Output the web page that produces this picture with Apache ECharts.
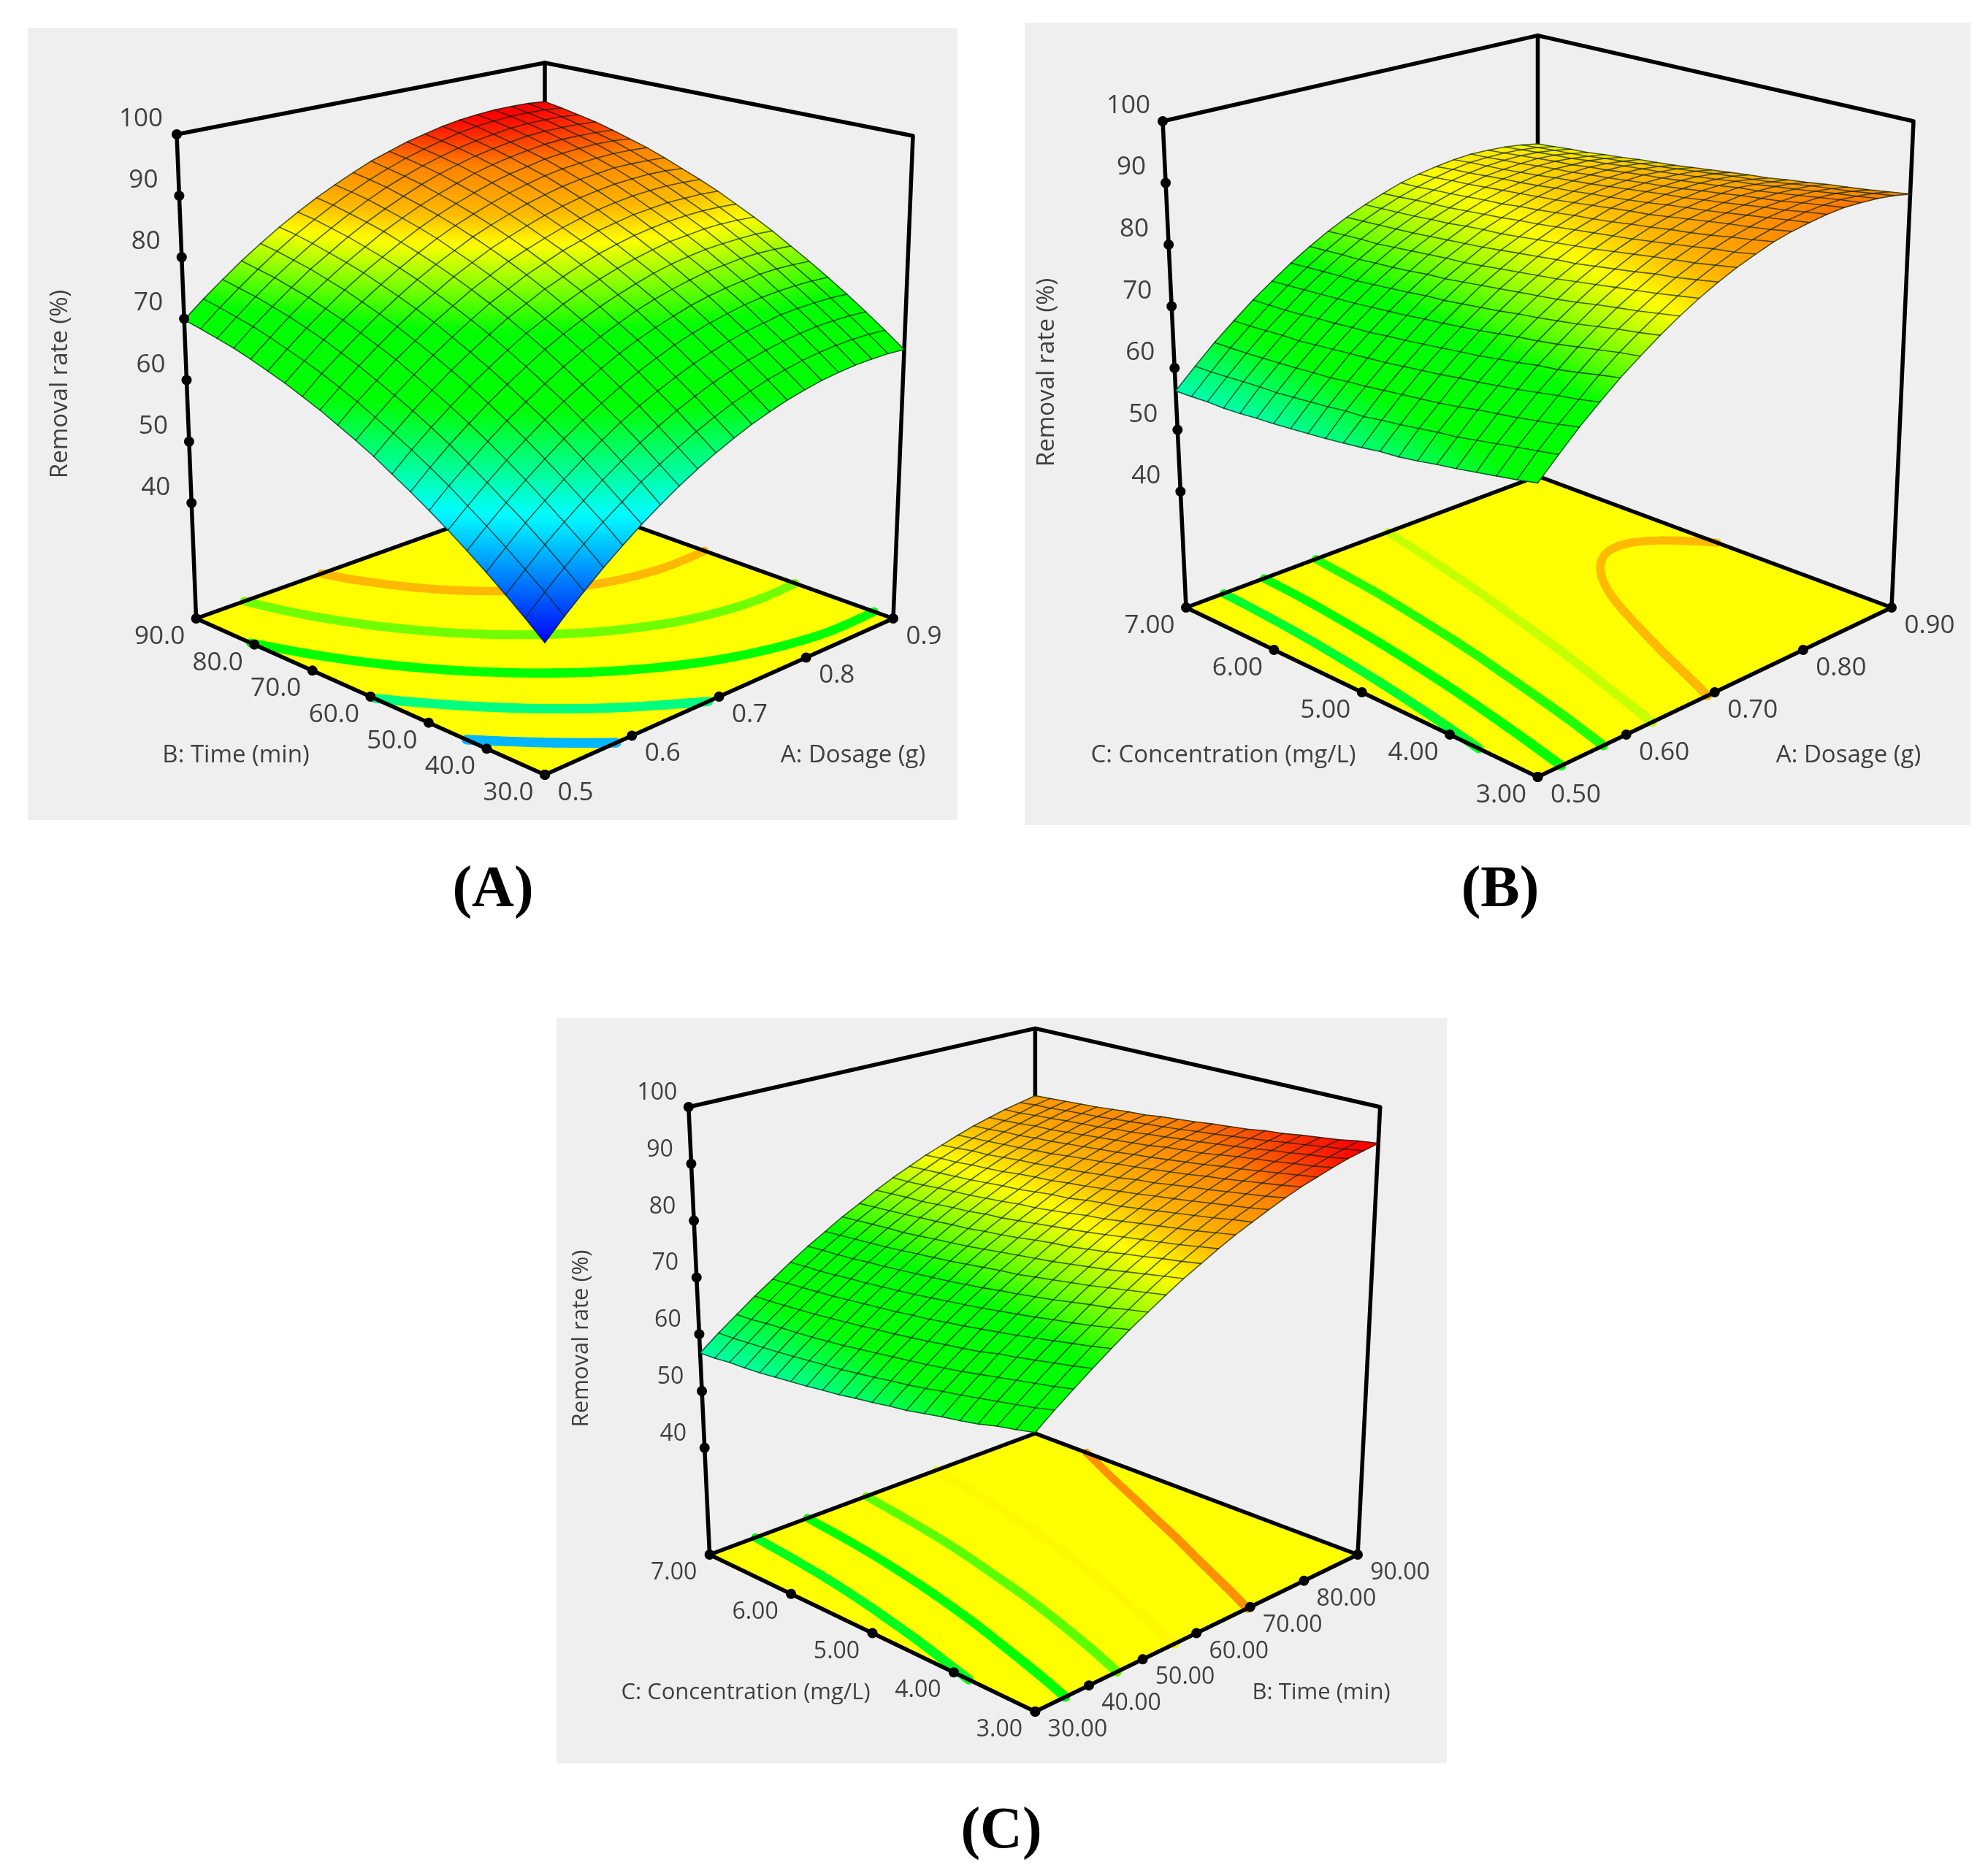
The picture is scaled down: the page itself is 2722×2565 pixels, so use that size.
<!DOCTYPE html>
<html><head><meta charset="utf-8">
<style>html,body{margin:0;padding:0;background:#fff}#c{width:2722px;height:2565px}</style>
<script src="https://cdn.jsdelivr.net/npm/echarts@6/dist/echarts.min.js"></script>
</head><body><div id="c"></div>
<script>
// ---------- values ----------
// rows: second factor low -> high; columns: first factor low -> high
const zA = [
[40.1,42.8,45.3,47.7,49.9,52.0,53.9,55.7,57.3,58.8,60.1,61.3,62.3,63.2,63.9,64.5,64.9,65.2,65.3,65.3,65.1],
[42.5,45.2,47.7,50.1,52.3,54.3,56.3,58.0,59.6,61.1,62.4,63.6,64.6,65.5,66.2,66.8,67.2,67.5,67.6,67.6,67.4],
[44.8,47.4,50.0,52.3,54.5,56.6,58.5,60.3,61.9,63.4,64.7,65.9,66.9,67.7,68.4,69.0,69.4,69.7,69.8,69.8,69.6],
[47.0,49.6,52.2,54.5,56.7,58.8,60.7,62.5,64.1,65.5,66.8,68.0,69.0,69.9,70.6,71.1,71.6,71.8,71.9,71.9,71.7],
[49.1,51.7,54.2,56.6,58.8,60.9,62.8,64.5,66.1,67.6,68.9,70.1,71.1,71.9,72.6,73.2,73.6,73.8,73.9,73.9,73.7],
[51.1,53.7,56.2,58.6,60.8,62.9,64.8,66.5,68.1,69.6,70.9,72.0,73.0,73.9,74.6,75.1,75.5,75.8,75.9,75.8,75.6],
[53.0,55.7,58.1,60.5,62.7,64.7,66.6,68.4,70.0,71.4,72.7,73.9,74.9,75.7,76.4,77.0,77.3,77.6,77.7,77.6,77.4],
[54.8,57.5,60.0,62.3,64.5,66.5,68.4,70.2,71.8,73.2,74.5,75.6,76.6,77.5,78.2,78.7,79.1,79.3,79.4,79.4,79.2],
[56.5,59.2,61.7,64.0,66.2,68.2,70.1,71.9,73.4,74.9,76.2,77.3,78.3,79.1,79.8,80.4,80.7,81.0,81.1,81.0,80.8],
[58.2,60.8,63.3,65.6,67.8,69.8,71.7,73.5,75.0,76.5,77.7,78.9,79.9,80.7,81.4,81.9,82.3,82.5,82.6,82.5,82.3],
[59.7,62.3,64.8,67.1,69.3,71.3,73.2,75.0,76.5,78.0,79.2,80.4,81.3,82.2,82.8,83.4,83.7,84.0,84.0,84.0,83.8],
[61.1,63.8,66.2,68.6,70.7,72.8,74.6,76.4,77.9,79.4,80.6,81.7,82.7,83.5,84.2,84.7,85.1,85.3,85.4,85.3,85.1],
[62.5,65.1,67.6,69.9,72.1,74.1,75.9,77.7,79.2,80.7,81.9,83.0,84.0,84.8,85.5,86.0,86.4,86.6,86.7,86.6,86.3],
[63.7,66.4,68.8,71.1,73.3,75.3,77.2,78.9,80.4,81.9,83.1,84.2,85.2,86.0,86.7,87.2,87.5,87.8,87.8,87.7,87.5],
[64.9,67.5,70.0,72.3,74.4,76.4,78.3,80.0,81.6,83.0,84.2,85.3,86.3,87.1,87.8,88.3,88.6,88.8,88.9,88.8,88.6],
[65.9,68.5,71.0,73.3,75.5,77.5,79.3,81.0,82.6,84.0,85.2,86.3,87.3,88.1,88.7,89.3,89.6,89.8,89.9,89.8,89.5],
[66.9,69.5,72.0,74.3,76.4,78.4,80.2,82.0,83.5,84.9,86.1,87.2,88.2,89.0,89.6,90.1,90.5,90.7,90.7,90.6,90.4],
[67.8,70.4,72.8,75.1,77.3,79.2,81.1,82.8,84.3,85.7,87.0,88.1,89.0,89.8,90.4,90.9,91.3,91.5,91.5,91.4,91.2],
[68.5,71.1,73.6,75.9,78.0,80.0,81.8,83.5,85.1,86.5,87.7,88.8,89.7,90.5,91.1,91.6,92.0,92.2,92.2,92.1,91.8],
[69.2,71.8,74.2,76.5,78.7,80.7,82.5,84.2,85.7,87.1,88.3,89.4,90.3,91.1,91.8,92.3,92.6,92.8,92.8,92.7,92.4],
[69.8,72.4,74.8,77.1,79.2,81.2,83.0,84.7,86.2,87.6,88.9,89.9,90.9,91.6,92.3,92.8,93.1,93.3,93.3,93.2,92.9]];
const zB = [
[63.9,66.9,69.8,72.4,74.9,77.1,79.2,81.1,82.8,84.3,85.6,86.7,87.7,88.4,88.9,89.3,89.5,89.4,89.2,88.8,88.2],
[63.2,66.3,69.1,71.7,74.3,76.6,78.6,80.5,82.2,83.7,85.0,86.1,87.1,87.8,88.4,88.8,89.0,89.0,88.7,88.3,87.7],
[62.6,65.7,68.5,71.2,73.6,76.0,78.1,79.9,81.6,83.1,84.4,85.7,86.6,87.3,87.9,88.2,88.5,88.5,88.3,87.8,87.2],
[62.0,65.1,67.9,70.6,73.0,75.4,77.5,79.4,81.1,82.7,84.0,85.1,86.0,86.9,87.4,87.8,87.9,88.0,87.8,87.4,86.8],
[61.4,64.5,67.4,70.0,72.6,74.8,76.9,78.9,80.6,82.1,83.5,84.6,85.5,86.4,86.9,87.3,87.5,87.5,87.3,87.0,86.4],
[60.9,63.9,66.9,69.5,72.0,74.3,76.4,78.3,80.1,81.6,83.0,84.1,85.1,85.9,86.4,86.8,87.1,87.0,86.9,86.5,85.9],
[60.3,63.5,66.3,69.0,71.5,73.9,75.9,77.8,79.6,81.1,82.5,83.6,84.6,85.4,86.0,86.4,86.6,86.7,86.4,86.0,85.5],
[59.8,63.0,65.8,68.6,71.0,73.4,75.5,77.4,79.1,80.6,82.0,83.2,84.2,84.9,85.6,85.9,86.2,86.2,86.1,85.6,85.0],
[59.5,62.5,65.4,68.1,70.6,72.9,75.0,77.0,78.7,80.3,81.6,82.8,83.7,84.6,85.1,85.6,85.7,85.8,85.6,85.3,84.7],
[59.0,62.1,65.0,67.7,70.2,72.5,74.6,76.6,78.3,79.9,81.2,82.4,83.3,84.2,84.7,85.2,85.3,85.4,85.2,84.9,84.3],
[58.6,61.6,64.6,67.3,69.8,72.1,74.2,76.2,77.9,79.5,80.8,82.0,83.0,83.8,84.3,84.8,85.0,85.0,84.8,84.5,83.9],
[58.2,61.4,64.2,66.9,69.4,71.8,73.8,75.8,77.5,79.1,80.4,81.6,82.6,83.4,84.0,84.4,84.6,84.7,84.4,84.1,83.5],
[57.9,61.0,63.9,66.6,69.1,71.4,73.6,75.4,77.1,78.7,80.0,81.3,82.2,83.0,83.6,84.0,84.2,84.3,84.1,83.7,83.1],
[57.6,60.7,63.5,66.3,68.7,71.1,73.2,75.2,76.9,78.4,79.8,80.9,81.9,82.7,83.3,83.7,83.9,83.9,83.8,83.4,82.8],
[57.3,60.4,63.3,66.0,68.5,70.8,72.9,74.8,76.6,78.1,79.5,80.6,81.5,82.4,82.9,83.4,83.5,83.6,83.4,83.0,82.5],
[57.1,60.1,63.0,65.7,68.2,70.5,72.6,74.5,76.3,77.8,79.1,80.3,81.3,82.1,82.6,83.0,83.3,83.2,83.1,82.7,82.1],
[56.8,60.0,62.8,65.4,68.0,70.3,72.3,74.3,76.0,77.5,78.9,80.0,81.0,81.8,82.4,82.7,83.0,83.0,82.7,82.3,81.8],
[56.6,59.8,62.6,65.3,67.7,70.1,72.2,74.0,75.7,77.3,78.6,79.8,80.7,81.5,82.1,82.4,82.6,82.7,82.5,82.0,81.4],
[56.6,59.6,62.4,65.1,67.5,69.9,72.0,73.9,75.6,77.1,78.4,79.6,80.5,81.3,81.8,82.2,82.4,82.4,82.2,81.8,81.2],
[56.4,59.4,62.3,64.9,67.4,69.7,71.8,73.7,75.4,76.9,78.2,79.3,80.2,81.0,81.6,82.0,82.1,82.1,81.9,81.5,80.9],
[56.3,59.3,62.2,64.8,67.3,69.5,71.6,73.5,75.2,76.7,78.0,79.1,80.1,80.8,81.3,81.7,81.9,81.8,81.6,81.2,80.6]];
const zC = [
[65.2,67.6,69.8,72.0,74.1,76.1,77.9,79.7,81.4,82.9,84.4,85.8,87.0,88.2,89.3,90.3,91.1,91.9,92.6,93.1,93.6],
[64.5,66.8,69.1,71.3,73.4,75.4,77.3,79.1,80.8,82.3,83.8,85.2,86.5,87.6,88.7,89.7,90.6,91.3,92.0,92.6,93.2],
[63.9,66.2,68.5,70.7,72.8,74.7,76.6,78.5,80.2,81.8,83.2,84.6,85.9,87.1,88.2,89.2,90.1,90.9,91.6,92.2,92.6],
[63.1,65.6,67.9,70.1,72.2,74.1,76.1,77.9,79.6,81.2,82.7,84.1,85.4,86.6,87.7,88.7,89.6,90.4,91.1,91.7,92.2],
[62.5,65.0,67.3,69.5,71.6,73.6,75.5,77.3,79.0,80.7,82.2,83.6,84.9,86.1,87.2,88.2,89.1,90.0,90.7,91.3,91.8],
[62.0,64.4,66.7,69.0,71.0,73.0,74.9,76.8,78.5,80.1,81.7,83.1,84.4,85.6,86.8,87.8,88.7,89.6,90.2,90.8,91.3],
[61.4,63.9,66.1,68.3,70.5,72.5,74.4,76.3,78.0,79.6,81.2,82.6,83.9,85.2,86.3,87.3,88.2,89.1,89.8,90.4,91.0],
[60.8,63.3,65.6,67.8,70.0,72.0,73.9,75.8,77.5,79.1,80.7,82.1,83.4,84.7,85.8,86.9,87.8,88.6,89.4,90.0,90.5],
[60.4,62.8,65.1,67.4,69.5,71.5,73.5,75.3,77.1,78.8,80.3,81.8,83.1,84.3,85.5,86.5,87.4,88.3,89.0,89.6,90.2],
[59.9,62.4,64.7,66.9,69.1,71.1,73.0,75.0,76.7,78.4,79.9,81.3,82.7,83.9,85.0,86.1,87.0,88.0,88.7,89.3,89.9],
[59.5,61.9,64.3,66.5,68.6,70.7,72.6,74.6,76.3,77.9,79.5,80.9,82.2,83.5,84.7,85.8,86.7,87.5,88.3,88.9,89.5],
[59.0,61.5,63.9,66.1,68.3,70.3,72.2,74.2,75.9,77.5,79.1,80.5,82.0,83.2,84.3,85.4,86.3,87.2,88.0,88.6,89.2],
[58.7,61.1,63.5,65.8,67.9,69.9,71.9,73.8,75.5,77.2,78.7,80.3,81.6,82.8,84.0,85.1,86.0,86.9,87.6,88.3,88.9],
[58.3,60.8,63.1,65.4,67.6,69.6,71.6,73.5,75.2,76.8,78.5,79.9,81.2,82.6,83.7,84.8,85.7,86.6,87.4,88.0,88.5],
[58.0,60.5,62.8,65.1,67.3,69.3,71.3,73.2,74.9,76.6,78.1,79.6,81.0,82.3,83.4,84.4,85.4,86.3,87.0,87.7,88.3],
[57.7,60.2,62.5,64.8,67.0,69.0,71.0,72.9,74.6,76.3,77.9,79.3,80.7,81.9,83.2,84.2,85.1,86.0,86.8,87.4,88.0],
[57.4,59.9,62.3,64.5,66.7,68.8,70.8,72.6,74.3,76.1,77.6,79.1,80.4,81.7,82.9,83.9,84.9,85.7,86.6,87.2,87.7],
[57.2,59.7,62.1,64.3,66.5,68.5,70.5,72.4,74.2,75.8,77.3,78.9,80.2,81.5,82.6,83.7,84.6,85.6,86.3,87.0,87.5],
[57.1,59.5,61.9,64.1,66.3,68.3,70.3,72.2,74.0,75.6,77.2,78.6,80.0,81.2,82.5,83.5,84.5,85.3,86.1,86.7,87.3],
[56.8,59.3,61.6,63.9,66.1,68.2,70.2,72.0,73.8,75.4,77.0,78.4,79.8,81.1,82.2,83.3,84.2,85.1,85.8,86.6,87.1],
[56.7,59.2,61.5,63.8,65.9,68.0,70.0,71.8,73.6,75.2,76.8,78.3,79.6,80.9,82.0,83.1,84.1,84.9,85.7,86.3,86.9]];

const contourLevelsA = [49.3,58.5,67.4,76,84.2];
const contourLevelsB = [62,67.4,73.2,79,84.2];
const contourLevelsC = [62.7,69,75.2,81.3,87.6];

const zTickLabels = ['40','50','60','70','80','90','100'];
const dosageTicksA = ['0.5','0.6','0.7','0.8','0.9'];
const timeTicksA = ['30.0','40.0','50.0','60.0','70.0','80.0','90.0'];
const dosageTicksB = ['0.50','0.60','0.70','0.80','0.90'];
const concTicksB = ['3.00','4.00','5.00','6.00','7.00'];
const timeTicksC = ['30.00','40.00','50.00','60.00','70.00','80.00','90.00'];
const concTicksC = ['3.00','4.00','5.00','6.00','7.00'];
const zFloorValue = 21.2, zTopValue = 100;

// colour scale of the response (value -> colour)
const rampValues = [40,53,64,72,81,84.2,88.9,93];
const rampColours = [[0,0,255],[0,255,255],[0,255,0],[0,255,0],[255,255,0],[255,185,0],[255,130,0],[255,0,0]];

// ---------- layout ----------
const TEXT = '#3f3f3f', BG = '#efefef', FONT = '"Open Sans","Noto Sans",sans-serif';
const panels = [
 {rect:[38,38,1273,1085], z:zA, levels:contourLevelsA,
  floor:{F:[746,1061],R:[1223,847],B:[746,676],L:[268.6,847]},
  top:{F:[746,307],R:[1250,186],B:[746,86],L:[242,184]},
  uTicks:dosageTicksA, vTicks:timeTicksA, tickFont:35, titleFont:33,
  uOff:[42,25], vOff:[-50,25], zOff:[-49,-21],
  titles:[['B: Time (min)',323,1035],['A: Dosage (g)',1168,1035]], zTitle:[83,526],
  caption:['(A)',675,1220]},
 {rect:[1403,31,1295,1099], z:zB, levels:contourLevelsB,
  floor:{F:[2105.5,1064],R:[2590,832],B:[2105.5,652],L:[1624,832]},
  top:{F:[2105.5,321],R:[2620,166],B:[2105.5,48.6],L:[1592,166]},
  uTicks:dosageTicksB, vTicks:concTicksB, tickFont:35, titleFont:33,
  uOff:[52,25], vOff:[-50,25], zOff:[-47,-21],
  titles:[['C: Concentration (mg/L)',1675,1035],['A: Dosage (g)',2531,1035]], zTitle:[1434,510],
  caption:['(B)',2054,1220]},
 {rect:[762,1394,1219,1021], z:zC, levels:contourLevelsC,
  floor:{F:[1417.4,2344],R:[1859,2129],B:[1417.4,1963],L:[971.6,2129]},
  top:{F:[1417.4,1659.4],R:[1889.7,1516],B:[1417.4,1408.4],L:[942.8,1516]},
  uTicks:timeTicksC, vTicks:concTicksC, tickFont:32, titleFont:31,
  uOff:[58,25], vOff:[-49,25], zOff:[-43,-19],
  titles:[['C: Concentration (mg/L)',1021,2318],['B: Time (min)',1809,2318]], zTitle:[796,1833],
  caption:['(C)',1371,2509]}
];

// ---------- helpers ----------
function homography(q){
  const [x0,y0]=q.F,[x1,y1]=q.R,[x2,y2]=q.B,[x3,y3]=q.L;
  const dx1=x1-x2,dx2=x3-x2,sx=x0-x1+x2-x3,dy1=y1-y2,dy2=y3-y2,sy=y0-y1+y2-y3;
  const den=dx1*dy2-dx2*dy1, g=(sx*dy2-dx2*sy)/den, h=(dx1*sy-sx*dy1)/den;
  const a=x1-x0+g*x1,b=x3-x0+h*x3,d=y1-y0+g*y1,e=y3-y0+h*y3;
  return (u,v)=>{const w=g*u+h*v+1;return [(a*u+b*v+x0)/w,(d*u+e*v+y0)/w,w];};
}
function colourOf(z){
  const n=rampValues.length;
  if(z<=rampValues[0]) return rampColours[0];
  if(z>=rampValues[n-1]) return rampColours[n-1];
  for(let k=0;k<n-1;k++) if(z<=rampValues[k+1]){
    const t=(z-rampValues[k])/(rampValues[k+1]-rampValues[k]),A=rampColours[k],B=rampColours[k+1];
    return [0,1,2].map(c=>Math.round(A[c]+(B[c]-A[c])*t));
  }
}
const css=c=>`rgb(${c[0]},${c[1]},${c[2]})`;
function quadFill(p,zs){
  const zmin=Math.min(...zs),zmax=Math.max(...zs),zc=(zs[0]+zs[1]+zs[2]+zs[3])/4;
  const cx=(p[0][0]+p[1][0]+p[2][0]+p[3][0])/4,cy=(p[0][1]+p[1][1]+p[2][1]+p[3][1])/4;
  const eu=[(p[1][0]-p[0][0]+p[2][0]-p[3][0])/2,(p[1][1]-p[0][1]+p[2][1]-p[3][1])/2];
  const ev=[(p[3][0]-p[0][0]+p[2][0]-p[1][0])/2,(p[3][1]-p[0][1]+p[2][1]-p[1][1])/2];
  const du=(zs[1]-zs[0]+zs[2]-zs[3])/2,dv=(zs[3]-zs[0]+zs[2]-zs[1])/2;
  const det=eu[0]*ev[1]-eu[1]*ev[0];
  if(Math.abs(det)<1e-6||zmax-zmin<1e-6) return css(colourOf(zc));
  const gx=(du*ev[1]-dv*eu[1])/det,gy=(dv*eu[0]-du*ev[0])/det,g2=gx*gx+gy*gy;
  if(g2<1e-9) return css(colourOf(zc));
  const x0=cx+gx*(zmin-zc)/g2,y0=cy+gy*(zmin-zc)/g2,x1=cx+gx*(zmax-zc)/g2,y1=cy+gy*(zmax-zc)/g2;
  const stops=[0,.25,.5,.75,1].map(o=>({offset:o,color:css(colourOf(zmin+(zmax-zmin)*o))}));
  return new echarts.graphic.LinearGradient(x0,y0,x1,y1,stops,true);
}
// join contour segments into chains so they can be drawn as a smooth band
function chainSegments(segs){
  const key=q=>q[0].toFixed(4)+','+q[1].toFixed(4),used=segs.map(()=>false),at={},chains=[];
  segs.forEach((s,k)=>{[key(s[0]),key(s[1])].forEach(m=>{(at[m]=at[m]||[]).push(k);});});
  const walk=(start,k0)=>{
    const path=[start];let cur=start,k=k0;
    while(k!==undefined){
      used[k]=true;
      const s=segs[k],next=key(s[0])===key(cur)?s[1]:s[0];
      path.push(next);cur=next;
      k=(at[key(cur)]||[]).find(n=>!used[n]);
    }
    return path;
  };
  Object.keys(at).filter(m=>at[m].length===1).forEach(m=>{
    const k=at[m][0];if(used[k])return;
    const s=segs[k];chains.push(walk(key(s[0])===m?s[0]:s[1],k));
  });
  segs.forEach((s,k)=>{if(!used[k])chains.push(walk(s[0],k));});
  return chains;
}
function relax(path,passes){
  let q=path;
  for(let n=0;n<passes;n++) q=q.map((m,i)=>(i===0||i===q.length-1)?m:
    [(q[i-1][0]+2*m[0]+q[i+1][0])/4,(q[i-1][1]+2*m[1]+q[i+1][1])/4]);
  return q;
}
const seriesBase=(idx)=>({type:'custom',coordinateSystem:'cartesian2d',xAxisIndex:idx,yAxisIndex:idx,
  silent:true,animation:false,clip:false,progressive:0,encode:{x:0,y:1}});

function seriesFor(p,idx){
  const floorH=homography(p.floor),topH=homography(p.top);
  const N=p.z.length-1,M=p.z[0].length-1;
  const tOf=z=>(z-zFloorValue)/(zTopValue-zFloorValue);
  const proj=(u,v,t)=>{const a=floorH(u,v),b=topH(u,v);return [a[0]+(b[0]-a[0])*t,a[1]+(b[1]-a[1])*t];};
  const line=(api,pts,w,col)=>({type:'polyline',shape:{points:pts.map(q=>api.coord(q))},
    style:{stroke:col||'#000',lineWidth:w,fill:null,lineCap:'round',lineJoin:'round'}});
  const out=[];
  // box walls and yellow floor
  out.push({...seriesBase(idx),data:[[0,0]],renderItem:(x,api)=>{
    const f=p.floor,t=p.top;
    return {type:'group',children:[
      line(api,[f.L,t.L,t.B,t.R,f.R],5.5),
      line(api,[t.B,f.B],5.5),
      {type:'polygon',shape:{points:[f.F,f.R,f.B,f.L].map(q=>api.coord(q))},style:{fill:'#ffff00'}}
    ]};
  }});
  // contour bands on the floor
  out.push({...seriesBase(idx),data:p.levels.map((l,k)=>[k,l]),renderItem:(x,api)=>{
    const L=api.value(1),col=css(colourOf(L)),segs=[],ch=[];
    for(let j=0;j<N;j++)for(let i=0;i<M;i++){
      const a=p.z[j][i],b=p.z[j][i+1],c=p.z[j+1][i+1],d=p.z[j+1][i],pts=[];
      if((a<L)!==(b<L))pts.push([i+(L-a)/(b-a),j]);
      if((b<L)!==(c<L))pts.push([i+1,j+(L-b)/(c-b)]);
      if((d<L)!==(c<L))pts.push([i+(L-d)/(c-d),j+1]);
      if((a<L)!==(d<L))pts.push([i,j+(L-a)/(d-a)]);
      for(let s=0;s+1<pts.length;s+=2)segs.push([pts[s],pts[s+1]]);
    }
    chainSegments(segs).forEach(path=>{
      const q=relax(path,4);
      for(let s=0;s+1<q.length;s++){
        const A=floorH(q[s][0]/M,q[s][1]/N),B=floorH(q[s+1][0]/M,q[s+1][1]/N);
        const P=api.coord(A),Q=api.coord(B);
        ch.push({type:'line',shape:{x1:P[0],y1:P[1],x2:Q[0],y2:Q[1]},
          style:{stroke:col,lineWidth:13.5/((A[2]+B[2])/2),lineCap:'round'}});
      }
    });
    return {type:'group',children:ch};
  }});
  // floor edges
  out.push({...seriesBase(idx),data:[[0,0]],renderItem:(x,api)=>{
    const f=p.floor;
    return line(api,[f.L,f.F,f.R,f.B,f.L,f.F],5.5);
  }});
  // response surface cells, far to near
  const cells=[];
  for(let j=N-1;j>=0;j--)for(let i=M-1;i>=0;i--)
    cells.push([i,j,p.z[j][i],p.z[j][i+1],p.z[j+1][i+1],p.z[j+1][i]]);
  out.push({...seriesBase(idx),data:cells,renderItem:(x,api)=>{
    const i=api.value(0),j=api.value(1),zs=[api.value(2),api.value(3),api.value(4),api.value(5)];
    const corners=[[i,j],[i+1,j],[i+1,j+1],[i,j+1]];
    const pts=corners.map((c,k)=>api.coord(proj(c[0]/M,c[1]/N,tOf(zs[k]))));
    const fill=quadFill(pts,zs);
    return {type:'polygon',shape:{points:pts},style:{fill:fill,stroke:fill,lineWidth:1}};
  }});
  // mesh lines
  const meshLines=[];
  for(let j=0;j<=N;j++)meshLines.push([0,j]);
  for(let i=0;i<=M;i++)meshLines.push([1,i]);
  out.push({...seriesBase(idx),data:meshLines,renderItem:(x,api)=>{
    const kind=api.value(0),n=api.value(1),pts=[];
    if(kind===0)for(let i=0;i<=M;i++)pts.push(proj(i/M,n/N,tOf(p.z[n][i])));
    else for(let j=0;j<=N;j++)pts.push(proj(n/M,j/N,tOf(p.z[j][n])));
    return line(api,pts,1.6,'rgba(0,30,15,0.68)');
  }});
  // ticks and tick labels on the three axes (floor ticks are evenly spaced along each edge)
  const items=[];
  const norm=(arr,s)=>(parseFloat(s)-parseFloat(arr[0]))/(parseFloat(arr[arr.length-1])-parseFloat(arr[0]));
  const along=(A,B,t)=>[A[0]+(B[0]-A[0])*t,A[1]+(B[1]-A[1])*t];
  p.uTicks.forEach(s=>items.push({pos:()=>along(p.floor.F,p.floor.R,norm(p.uTicks,s)),label:s,off:p.uOff}));
  p.vTicks.forEach(s=>items.push({pos:()=>along(p.floor.F,p.floor.L,norm(p.vTicks,s)),label:s,off:p.vOff}));
  zTickLabels.forEach(s=>items.push({pos:()=>proj(0,1,tOf(parseFloat(s))),label:s,off:p.zOff}));
  out.push({...seriesBase(idx),data:items.map((_,k)=>[k,0]),renderItem:(x,api)=>{
    const it=items[api.value(0)],c=api.coord(it.pos());
    return {type:'group',children:[
      {type:'circle',shape:{cx:c[0],cy:c[1],r:7},style:{fill:'#000'}},
      {type:'text',x:c[0]+it.off[0],y:c[1]+it.off[1],style:{text:it.label,fill:TEXT,
        font:`${p.tickFont}px ${FONT}`,align:'center',verticalAlign:'middle'}}
    ]};
  }});
  // axis titles and the caption
  out.push({...seriesBase(idx),data:[[0,0]],renderItem:(x,api)=>{
    const ch=p.titles.map(t=>{const c=api.coord([t[1],t[2]]);
      return {type:'text',x:c[0],y:c[1],style:{text:t[0],fill:TEXT,font:`${p.titleFont}px ${FONT}`,align:'center',verticalAlign:'middle'}};});
    const zc=api.coord(p.zTitle);
    ch.push({type:'text',x:zc[0],y:zc[1],rotation:Math.PI/2,style:{text:'Removal rate (%)',fill:TEXT,
      font:`${p.titleFont}px ${FONT}`,align:'center',verticalAlign:'middle'}});
    const cc=api.coord([p.caption[1],p.caption[2]]);
    ch.push({type:'text',x:cc[0],y:cc[1],style:{text:p.caption[0],fill:'#000',
      font:'bold 80px "Liberation Serif",serif',align:'center',verticalAlign:'middle'}});
    return {type:'group',children:ch};
  }});
  return out;
}

const chart=echarts.init(document.getElementById('c'),null,{renderer:'canvas'});
chart.setOption({
  animation:false,backgroundColor:'#ffffff',
  grid:panels.map(p=>({left:p.rect[0],top:p.rect[1],width:p.rect[2],height:p.rect[3],
    show:true,backgroundColor:BG,borderWidth:0,containLabel:false})),
  xAxis:panels.map((p,k)=>({type:'value',gridIndex:k,min:p.rect[0],max:p.rect[0]+p.rect[2],show:false})),
  yAxis:panels.map((p,k)=>({type:'value',gridIndex:k,min:p.rect[1],max:p.rect[1]+p.rect[3],inverse:true,show:false})),
  series:panels.flatMap((p,k)=>seriesFor(p,k))
});
</script></body></html>
